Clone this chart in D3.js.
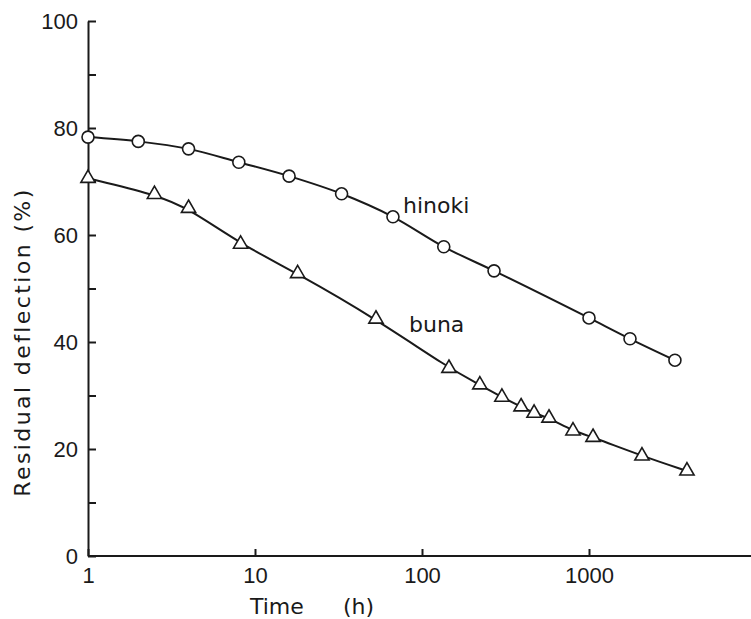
<!DOCTYPE html>
<html>
<head>
<meta charset="utf-8">
<script src="https://cdn.jsdelivr.net/npm/d3@7"></script>
<style>
  body { margin: 0; background: #fff; }
  svg { display: block; }
</style>
</head>
<body>
<svg></svg>
<script>
// hinoki (circles)
const hinokiTime = [1, 2, 4, 8, 16, 33, 67, 135, 270, 1000, 1760, 3270];
const hinokiDefl = [78.3, 77.5, 76.1, 73.6, 71.0, 67.7, 63.4, 57.8, 53.3, 44.5, 40.6, 36.6];

// buna (triangles)
const bunaTime = [1, 2.5, 4, 8.2, 18, 53, 145, 222, 301, 392, 469, 576, 802, 1057, 2076, 3860];
const bunaDefl = [70.6, 67.6, 65.0, 58.3, 52.8, 44.3, 35.1, 32.0, 29.7, 27.9, 26.7, 25.8, 23.4, 22.2, 18.7, 15.9];

const xTicks = [1, 10, 100, 1000];
const yTicks = [0, 10, 20, 30, 40, 50, 60, 70, 80, 90, 100];

const hinoki = hinokiTime.map((t, i) => ({ t: t, v: hinokiDefl[i] }));
const buna = bunaTime.map((t, i) => ({ t: t, v: bunaDefl[i] }));

const outerWidth = 751;
const outerHeight = 619;

const svg = d3.select("svg")
  .attr("width", outerWidth)
  .attr("height", outerHeight);

// scales
const x = d3.scaleLog()
  .domain([1, 10000])
  .range([88, 756]);

const y = d3.scaleLinear()
  .domain([0, 100])
  .range([556, 21]);

// axes
const xAxis = svg.append("g")
  .attr("transform", `translate(0, ${y(0)})`)
  .call(d3.axisBottom(x)
    .tickValues(xTicks)
    .tickFormat(d3.format("d"))
    .tickSizeInner(-7)
    .tickSizeOuter(0)
    .tickPadding(11));

xAxis.select(".domain").attr("d", `M${x(1)},0H${outerWidth}`);

const yAxis = svg.append("g")
  .attr("transform", `translate(${x(1)}, 0)`)
  .call(d3.axisLeft(y)
    .tickValues(yTicks)
    .tickFormat(d => d % 20 === 0 ? d : "")
    .tickSizeInner(-8)
    .tickSizeOuter(0)
    .tickPadding(10));

svg.selectAll(".domain, .tick line")
  .attr("stroke", "#1a1a1a")
  .attr("stroke-width", 2);

svg.selectAll(".tick text")
  .attr("fill", "#1a1a1a")
  .style("font-family", "'Liberation Sans', Arial, sans-serif")
  .style("font-size", "22px");

// curves (hand-drawn look: smoothed through the points)
const line = d3.line()
  .x(d => x(d.t))
  .y(d => y(d.v));

svg.append("path")
  .datum(hinoki)
  .attr("d", line.curve(d3.curveMonotoneX))
  .attr("fill", "none")
  .attr("stroke", "#1a1a1a")
  .attr("stroke-width", 2);

svg.append("path")
  .datum(buna)
  .attr("d", line.curve(d3.curveBasis))
  .attr("fill", "none")
  .attr("stroke", "#1a1a1a")
  .attr("stroke-width", 2);

// markers
svg.selectAll(".circ")
  .data(hinoki)
  .enter()
  .append("circle")
    .attr("class", "circ")
    .attr("cx", d => x(d.t))
    .attr("cy", d => y(d.v))
    .attr("r", 6)
    .attr("fill", "#fff")
    .attr("stroke", "#1a1a1a")
    .attr("stroke-width", 1.6);

const tri = d3.symbol().type(d3.symbolTriangle).size(88);

svg.selectAll(".tri")
  .data(buna)
  .enter()
  .append("path")
    .attr("class", "tri")
    .attr("transform", d => `translate(${x(d.t)}, ${y(d.v)})`)
    .attr("d", tri)
    .attr("fill", "#fff")
    .attr("stroke", "#1a1a1a")
    .attr("stroke-width", 1.6);

// labels
const labelFont = "'DejaVu Sans', sans-serif";

svg.append("text")
  .attr("x", 403)
  .attr("y", 213)
  .style("font-family", labelFont)
  .style("font-size", "22px")
  .attr("fill", "#1a1a1a")
  .text("hinoki");

svg.append("text")
  .attr("x", 409)
  .attr("y", 332)
  .style("font-family", labelFont)
  .style("font-size", "22px")
  .attr("fill", "#1a1a1a")
  .text("buna");

const xTitle = svg.append("text")
  .attr("y", 614)
  .style("font-family", labelFont)
  .style("font-size", "22px")
  .attr("fill", "#1a1a1a");
xTitle.append("tspan").attr("x", 250).text("Time");
xTitle.append("tspan").attr("x", 343).text("(h)");

svg.append("text")
  .attr("transform", "translate(30, 342) rotate(-90)")
  .attr("text-anchor", "middle")
  .style("font-family", labelFont)
  .style("font-size", "22px")
  .style("letter-spacing", "2.4px")
  .attr("fill", "#1a1a1a")
  .text("Residual deflection (%)");
</script>
</body>
</html>
